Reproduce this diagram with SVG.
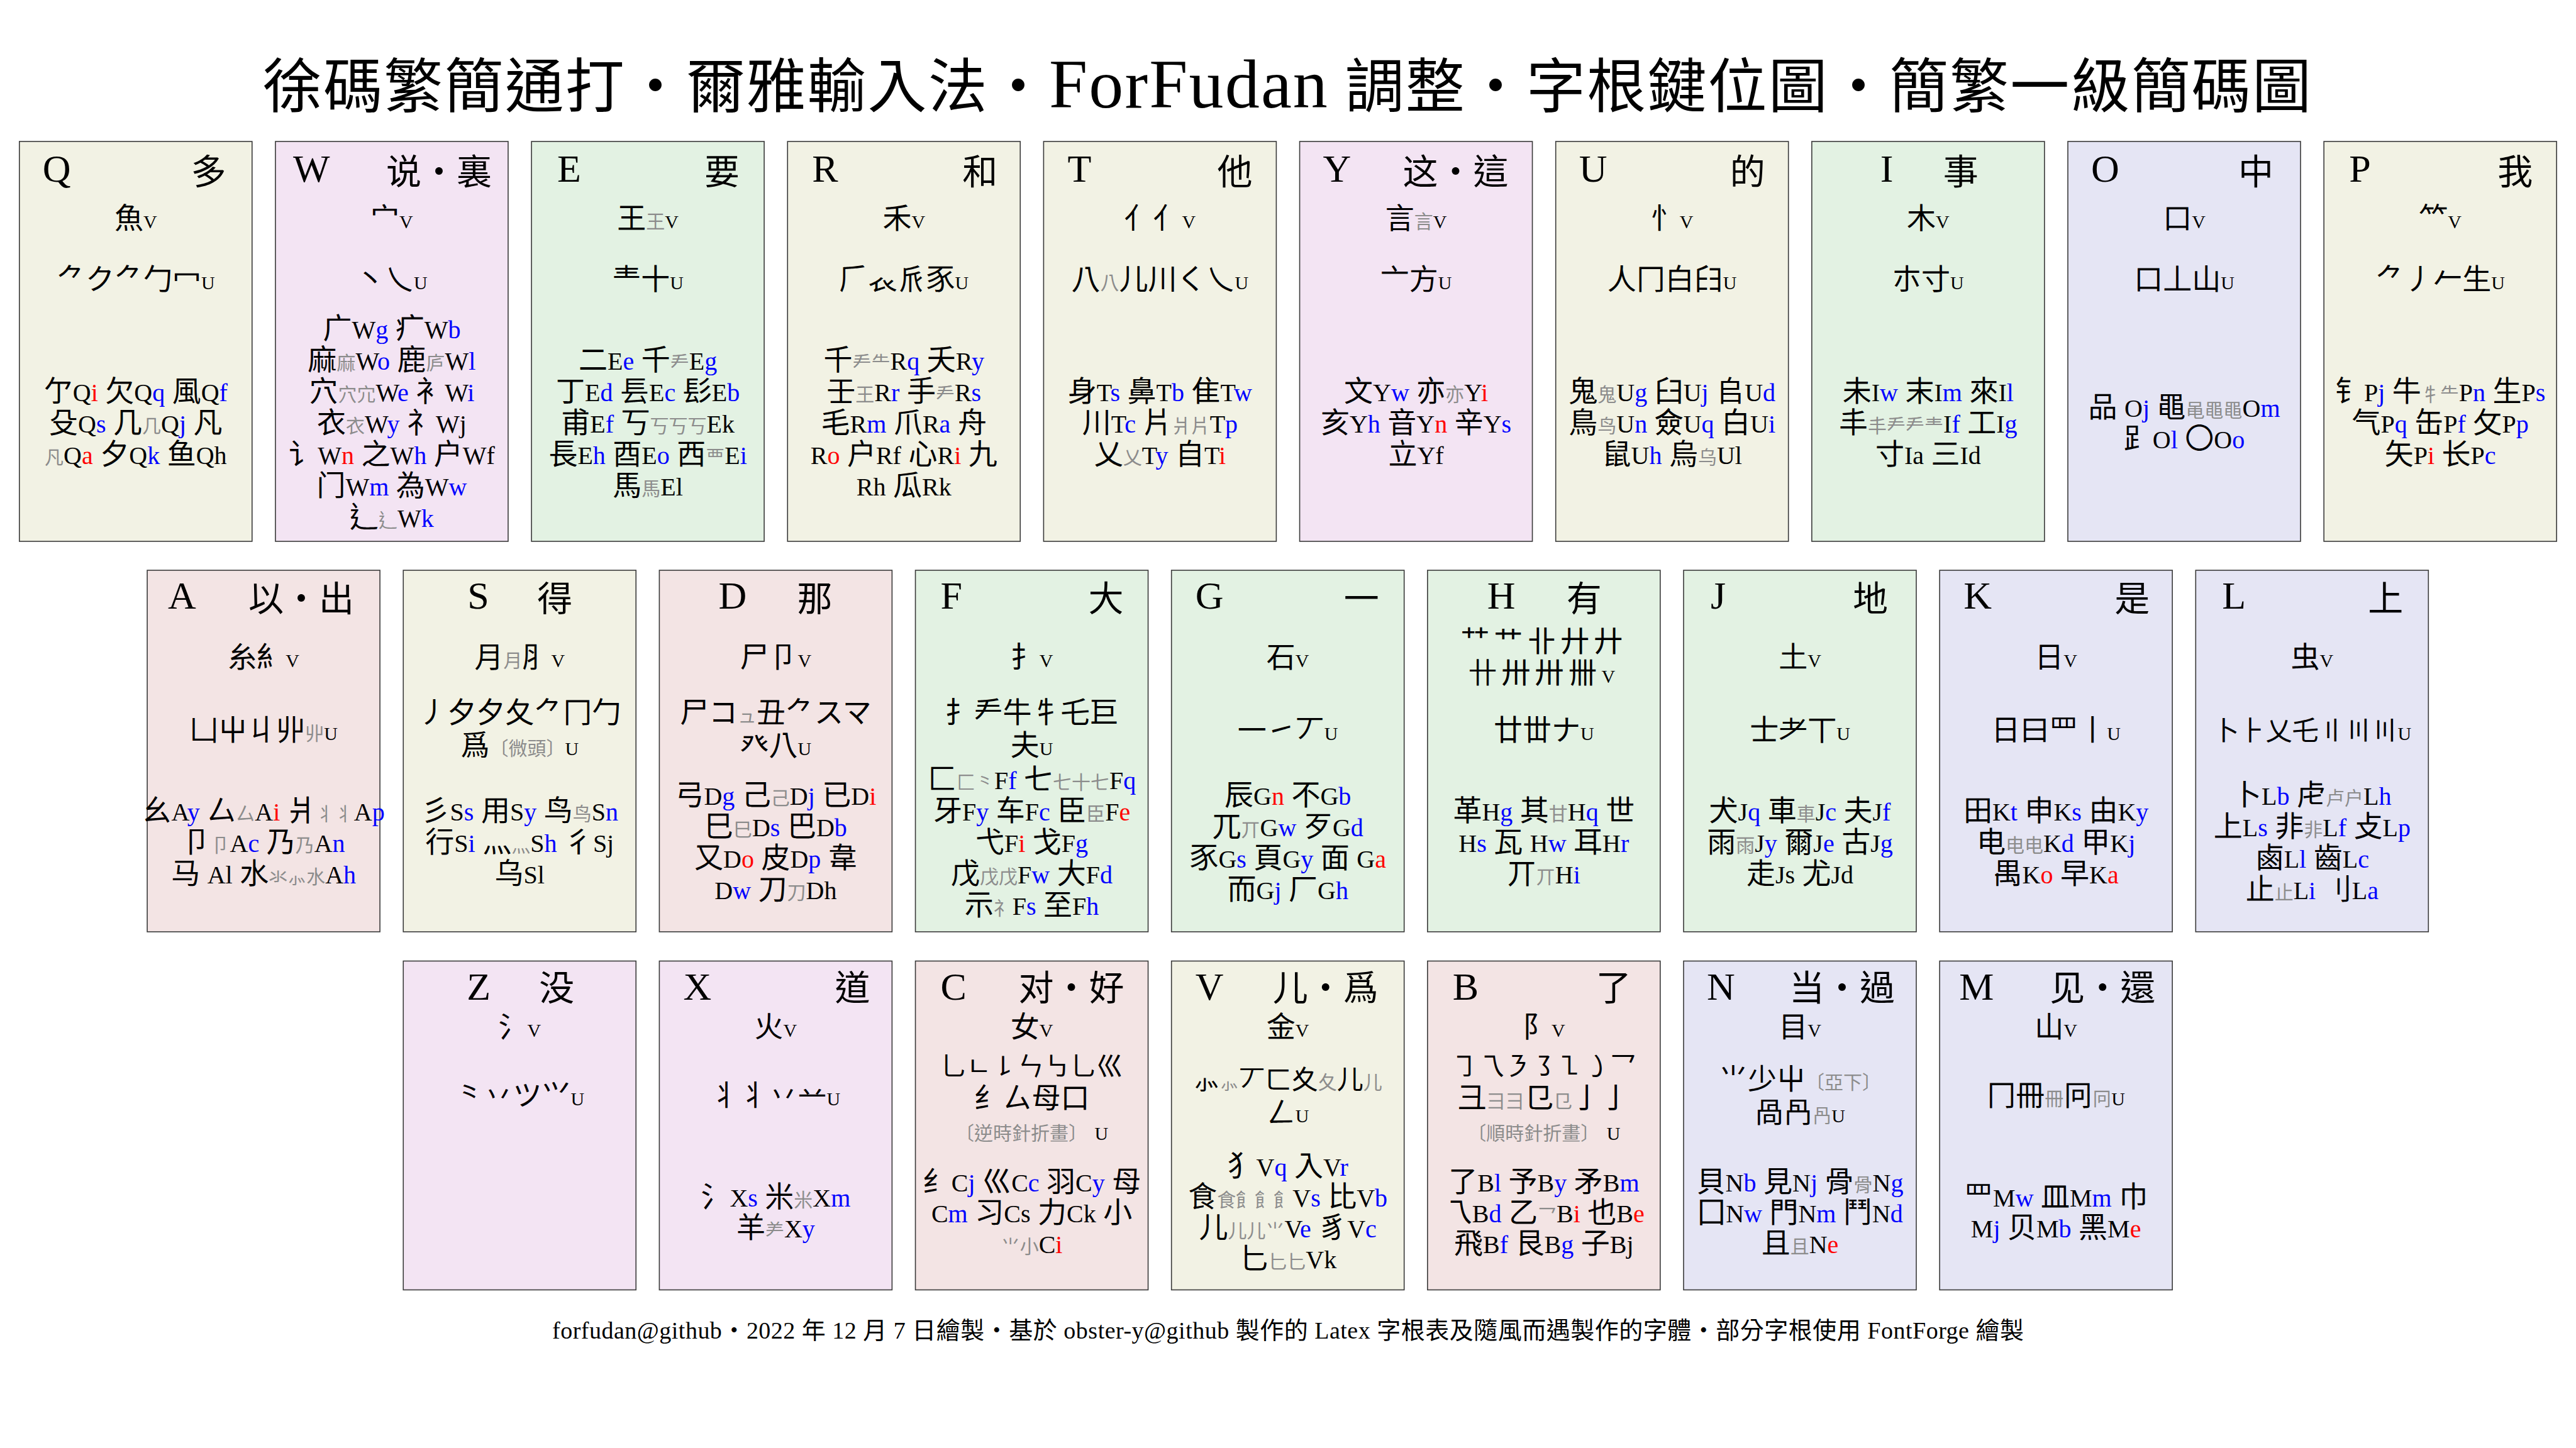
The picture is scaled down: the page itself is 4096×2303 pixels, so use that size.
<svg xmlns="http://www.w3.org/2000/svg" width="4096" height="2303" viewBox="0 0 4096 2303">
<style>
text{font-family:"Liberation Serif","Noto Sans CJK TC","Noto Sans CJK SC",serif;fill:#000}
.k{stroke:#3a3a3a;stroke-width:1.6}
.cy{fill:#f2f2e4}.cp{fill:#f3e4f3}.cg{fill:#e3f2e3}.cb{fill:#e5e5f4}.cr{fill:#f3e4e4}
.hl{font-size:62px}
.hc{font-size:56px;text-anchor:end}
.m{font-size:46px;text-anchor:middle}
.n{font-size:42px;text-anchor:middle}
.w{letter-spacing:7px}
.s{font-size:30px}
.l{font-size:40px}
.b{fill:#0000ff}
.r{fill:#ff0000}
.g{font-size:30px;fill:#8c8c8c}
</style>
<rect width="4096" height="2303" fill="#ffffff"/>
<g id="title">
<text x="418" y="171" font-size="94" textLength="3257" lengthAdjust="spacing">徐碼繁簡通打・爾雅輸入法・<tspan font-size="110">ForFudan</tspan> 調整・字根鍵位圖・簡繁一級簡碼圖</text>
</g>
<g id="key-Q" transform="translate(30.8 225)">
<rect class="k cy" width="370" height="636"/>
<text class="hl" x="37" y="64">Q</text><text class="hc" x="329" y="68">多</text>
<text class="m" x="185" y="138">魚<tspan class="s">V</tspan></text>
<text class="m" x="185" y="235">⺈ク⺈勹冖<tspan class="s">U</tspan></text>
<text class="m" x="185" y="413">亇<tspan class="l">Q<tspan class="r">i</tspan></tspan> 欠<tspan class="l">Q<tspan class="b">q</tspan></tspan> 風<tspan class="l">Q<tspan class="b">f</tspan></tspan></text>
<text class="m" x="185" y="463">殳<tspan class="l">Q<tspan class="b">s</tspan></tspan> 几<tspan class="g">几</tspan><tspan class="l">Q<tspan class="b">j</tspan></tspan> 凡</text>
<text class="m" x="185" y="513"><tspan class="g">凡</tspan><tspan class="l">Q<tspan class="r">a</tspan></tspan> 夕<tspan class="l">Q<tspan class="b">k</tspan></tspan> 鱼<tspan class="l">Qh</tspan></text>
</g>
<g id="key-W" transform="translate(437.95 225)">
<rect class="k cp" width="370" height="636"/>
<text class="hl" x="28" y="64">W</text><text class="hc" x="344" y="68">说・裏</text>
<text class="m" x="185" y="138">宀<tspan class="s">V</tspan></text>
<text class="m" x="185" y="235">丶乀<tspan class="s">U</tspan></text>
<text class="m" x="185" y="313">广<tspan class="l">W<tspan class="b">g</tspan></tspan> 疒<tspan class="l">W<tspan class="b">b</tspan></tspan></text>
<text class="m" x="185" y="363">麻<tspan class="g">麻</tspan><tspan class="l">W<tspan class="b">o</tspan></tspan> 鹿<tspan class="g">庐</tspan><tspan class="l">W<tspan class="b">l</tspan></tspan></text>
<text class="m" x="185" y="413">穴<tspan class="g">穴宂</tspan><tspan class="l">W<tspan class="b">e</tspan></tspan> 衤<tspan class="l">W<tspan class="b">i</tspan></tspan></text>
<text class="m" x="185" y="463">衣<tspan class="g">衣</tspan><tspan class="l">W<tspan class="b">y</tspan></tspan> 礻<tspan class="l">Wj</tspan></text>
<text class="m" x="185" y="513">讠<tspan class="l">W<tspan class="r">n</tspan></tspan> 之<tspan class="l">W<tspan class="b">h</tspan></tspan> 户<tspan class="l">Wf</tspan></text>
<text class="m" x="185" y="563">门<tspan class="l">W<tspan class="b">m</tspan></tspan> 為<tspan class="l">W<tspan class="b">w</tspan></tspan></text>
<text class="m" x="185" y="613">辶<tspan class="g">辶</tspan><tspan class="l">W<tspan class="b">k</tspan></tspan></text>
</g>
<g id="key-E" transform="translate(845.1 225)">
<rect class="k cg" width="370" height="636"/>
<text class="hl" x="41" y="64">E</text><text class="hc" x="331" y="68">要</text>
<text class="m" x="185" y="138">王<tspan class="g">王</tspan><tspan class="s">V</tspan></text>
<text class="m" x="185" y="235">龶十<tspan class="s">U</tspan></text>
<text class="m" x="185" y="363">二<tspan class="l">E<tspan class="b">e</tspan></tspan> 千<tspan class="g">龵</tspan><tspan class="l">E<tspan class="b">g</tspan></tspan></text>
<text class="m" x="185" y="413">丁<tspan class="l">E<tspan class="b">d</tspan></tspan> 镸<tspan class="l">E<tspan class="b">c</tspan></tspan> 髟<tspan class="l">E<tspan class="b">b</tspan></tspan></text>
<text class="m" x="185" y="463">甫<tspan class="l">E<tspan class="b">f</tspan></tspan> 丂<tspan class="g">丂丂丂</tspan><tspan class="l">Ek</tspan></text>
<text class="m" x="185" y="513">長<tspan class="l">E<tspan class="b">h</tspan></tspan> 酉<tspan class="l">E<tspan class="b">o</tspan></tspan> 西<tspan class="g">覀</tspan><tspan class="l">E<tspan class="b">i</tspan></tspan></text>
<text class="m" x="185" y="563">馬<tspan class="g">馬</tspan><tspan class="l">El</tspan></text>
</g>
<g id="key-R" transform="translate(1252.25 225)">
<rect class="k cy" width="370" height="636"/>
<text class="hl" x="39" y="64">R</text><text class="hc" x="334" y="68">和</text>
<text class="m" x="185" y="138">禾<tspan class="s">V</tspan></text>
<text class="m" x="185" y="235">𠂆𧘇𠂢豕<tspan class="s">U</tspan></text>
<text class="m" x="185" y="363">千<tspan class="g">龵⺧</tspan><tspan class="l">R<tspan class="b">q</tspan></tspan> 夭<tspan class="l">R<tspan class="b">y</tspan></tspan></text>
<text class="m" x="185" y="413">壬<tspan class="g">王</tspan><tspan class="l">R<tspan class="b">r</tspan></tspan> 手<tspan class="g">龵</tspan><tspan class="l">R<tspan class="b">s</tspan></tspan></text>
<text class="m" x="185" y="463">毛<tspan class="l">R<tspan class="b">m</tspan></tspan> 爪<tspan class="l">R<tspan class="b">a</tspan></tspan> 舟</text>
<text class="m" x="185" y="513"><tspan class="l">R<tspan class="r">o</tspan></tspan> 户<tspan class="l">Rf</tspan> 心<tspan class="l">R<tspan class="r">i</tspan></tspan> 九</text>
<text class="m" x="185" y="563"><tspan class="l">Rh</tspan> 瓜<tspan class="l">Rk</tspan></text>
</g>
<g id="key-T" transform="translate(1659.4 225)">
<rect class="k cy" width="370" height="636"/>
<text class="hl" x="38" y="64">T</text><text class="hc" x="332" y="68">他</text>
<text class="m" x="185" y="138">亻亻<tspan class="s">V</tspan></text>
<text class="m" x="185" y="235">八<tspan class="g">八</tspan>儿川く乀<tspan class="s">U</tspan></text>
<text class="m" x="185" y="413">身<tspan class="l">T<tspan class="b">s</tspan></tspan> 鼻<tspan class="l">T<tspan class="b">b</tspan></tspan> 隹<tspan class="l">T<tspan class="b">w</tspan></tspan></text>
<text class="m" x="185" y="463">川<tspan class="l">T<tspan class="b">c</tspan></tspan> 片<tspan class="g">爿片</tspan><tspan class="l">T<tspan class="b">p</tspan></tspan></text>
<text class="m" x="185" y="513">乂<tspan class="g">乂</tspan><tspan class="l">T<tspan class="b">y</tspan></tspan> 自<tspan class="l">T<tspan class="r">i</tspan></tspan></text>
</g>
<g id="key-Y" transform="translate(2066.55 225)">
<rect class="k cp" width="370" height="636"/>
<text class="hl" x="37" y="64">Y</text><text class="hc" x="332" y="68">这・這</text>
<text class="m" x="185" y="138">言<tspan class="g">言</tspan><tspan class="s">V</tspan></text>
<text class="m" x="185" y="235">亠方<tspan class="s">U</tspan></text>
<text class="m" x="185" y="413">文<tspan class="l">Y<tspan class="b">w</tspan></tspan> 亦<tspan class="g">亦</tspan><tspan class="l">Y<tspan class="r">i</tspan></tspan></text>
<text class="m" x="185" y="463">亥<tspan class="l">Y<tspan class="b">h</tspan></tspan> 音<tspan class="l">Y<tspan class="r">n</tspan></tspan> 辛<tspan class="l">Y<tspan class="b">s</tspan></tspan></text>
<text class="m" x="185" y="513">立<tspan class="l">Yf</tspan></text>
</g>
<g id="key-U" transform="translate(2473.7 225)">
<rect class="k cy" width="370" height="636"/>
<text class="hl" x="37" y="64">U</text><text class="hc" x="333" y="68">的</text>
<text class="m" x="185" y="138">忄<tspan class="s">V</tspan></text>
<text class="m" x="185" y="235">人冂白⺽<tspan class="s">U</tspan></text>
<text class="m" x="185" y="413">鬼<tspan class="g">鬼</tspan><tspan class="l">U<tspan class="b">g</tspan></tspan> 臼<tspan class="l">U<tspan class="b">j</tspan></tspan> 𠂤<tspan class="l">U<tspan class="b">d</tspan></tspan></text>
<text class="m" x="185" y="463">鳥<tspan class="g">鸟</tspan><tspan class="l">U<tspan class="b">n</tspan></tspan> 僉<tspan class="l">U<tspan class="b">q</tspan></tspan> 白<tspan class="l">U<tspan class="b">i</tspan></tspan></text>
<text class="m" x="185" y="513">鼠<tspan class="l">U<tspan class="b">h</tspan></tspan> 烏<tspan class="g">乌</tspan><tspan class="l">Ul</tspan></text>
</g>
<g id="key-I" transform="translate(2880.85 225)">
<rect class="k cg" width="370" height="636"/>
<text class="hl" x="109" y="64">I</text><text class="hc" x="265" y="68">事</text>
<text class="m" x="185" y="138">木<tspan class="s">V</tspan></text>
<text class="m" x="185" y="235">朩寸<tspan class="s">U</tspan></text>
<text class="m" x="185" y="413">未<tspan class="l">I<tspan class="b">w</tspan></tspan> 末<tspan class="l">I<tspan class="b">m</tspan></tspan> 來<tspan class="l">I<tspan class="b">l</tspan></tspan></text>
<text class="m" x="185" y="463">丰<tspan class="g">丰龵龵龶</tspan><tspan class="l">I<tspan class="b">f</tspan></tspan> 工<tspan class="l">I<tspan class="b">g</tspan></tspan></text>
<text class="m" x="185" y="513">寸<tspan class="l">Ia</tspan> 三<tspan class="l">Id</tspan></text>
</g>
<g id="key-O" transform="translate(3288 225)">
<rect class="k cb" width="370" height="636"/>
<text class="hl" x="37" y="64">O</text><text class="hc" x="327" y="68">中</text>
<text class="m" x="185" y="138">口<tspan class="s">V</tspan></text>
<text class="m" x="185" y="235">口丄山<tspan class="s">U</tspan></text>
<text class="m" x="185" y="438">品 <tspan class="l">O<tspan class="b">j</tspan></tspan> 黽<tspan class="g">黾黽黽</tspan><tspan class="l">O<tspan class="b">m</tspan></tspan></text>
<text class="m" x="185" y="488">⻊<tspan class="l">O<tspan class="b">l</tspan></tspan> 〇<tspan class="l">O<tspan class="b">o</tspan></tspan></text>
</g>
<g id="key-P" transform="translate(3695.15 225)">
<rect class="k cy" width="370" height="636"/>
<text class="hl" x="40" y="64">P</text><text class="hc" x="332" y="68">我</text>
<text class="m" x="185" y="138">⺮<tspan class="s">V</tspan></text>
<text class="m" x="185" y="235">⺈丿𠂉生<tspan class="s">U</tspan></text>
<text class="m" x="185" y="413">钅<tspan class="l">P<tspan class="b">j</tspan></tspan> 牛<tspan class="g">牜⺧</tspan><tspan class="l">P<tspan class="b">n</tspan></tspan> 生<tspan class="l">P<tspan class="b">s</tspan></tspan></text>
<text class="m" x="185" y="463">气<tspan class="l">P<tspan class="b">q</tspan></tspan> 缶<tspan class="l">P<tspan class="b">f</tspan></tspan> 攵<tspan class="l">P<tspan class="b">p</tspan></tspan></text>
<text class="m" x="185" y="513">矢<tspan class="l">P<tspan class="r">i</tspan></tspan> 长<tspan class="l">P<tspan class="b">c</tspan></tspan></text>
</g>
<g id="key-A" transform="translate(234.1 907)">
<rect class="k cr" width="370" height="575"/>
<text class="hl" x="33" y="61">A</text><text class="hc" x="329" y="65">以・出</text>
<text class="m" x="185" y="154">糸糹<tspan class="s">V</tspan></text>
<text class="m" x="185" y="270">凵屮丩丱<tspan class="g">丱</tspan><tspan class="s">U</tspan></text>
<text class="m" x="185" y="398">幺<tspan class="l">A<tspan class="b">y</tspan></tspan> 厶<tspan class="g">厶</tspan><tspan class="l">A<tspan class="r">i</tspan></tspan> 爿<tspan class="g">丬丬</tspan><tspan class="l">A<tspan class="b">p</tspan></tspan></text>
<text class="m" x="185" y="448">卩<tspan class="g">卩</tspan><tspan class="l">A<tspan class="b">c</tspan></tspan> 乃<tspan class="g">乃</tspan><tspan class="l">A<tspan class="b">n</tspan></tspan></text>
<text class="m" x="185" y="498">马 <tspan class="l">Al</tspan> 水<tspan class="g">氺⺗水</tspan><tspan class="l">A<tspan class="b">h</tspan></tspan></text>
</g>
<g id="key-S" transform="translate(641.25 907)">
<rect class="k cy" width="370" height="575"/>
<text class="hl" x="102" y="61">S</text><text class="hc" x="269" y="65">得</text>
<text class="m" x="185" y="154">月<tspan class="g">月</tspan>⺼<tspan class="s">V</tspan></text>
<text class="m" x="185" y="242">丿夕夕夂⺈冂勹</text>
<text class="m" x="185" y="294">爲<tspan class="g">〔微頭〕</tspan><tspan class="s">U</tspan></text>
<text class="m" x="185" y="398">彡<tspan class="l">S<tspan class="b">s</tspan></tspan> 用<tspan class="l">S<tspan class="b">y</tspan></tspan> 鸟<tspan class="g">鸟</tspan><tspan class="l">S<tspan class="b">n</tspan></tspan></text>
<text class="m" x="185" y="448">行<tspan class="l">S<tspan class="b">i</tspan></tspan> 灬<tspan class="g">⺣</tspan><tspan class="l">S<tspan class="b">h</tspan></tspan> 彳<tspan class="l">Sj</tspan></text>
<text class="m" x="185" y="498">乌<tspan class="l">Sl</tspan></text>
</g>
<g id="key-D" transform="translate(1048.4 907)">
<rect class="k cr" width="370" height="575"/>
<text class="hl" x="94" y="61">D</text><text class="hc" x="275" y="65">那</text>
<text class="m" x="185" y="154">尸卩<tspan class="s">V</tspan></text>
<text class="m" x="185" y="242">尸コ<tspan class="g">ュ</tspan>丑⺈スマ</text>
<text class="m" x="185" y="294">癶八<tspan class="s">U</tspan></text>
<text class="m" x="185" y="373">弓<tspan class="l">D<tspan class="b">g</tspan></tspan> 己<tspan class="g">己</tspan><tspan class="l">D<tspan class="b">j</tspan></tspan> 已<tspan class="l">D<tspan class="r">i</tspan></tspan></text>
<text class="m" x="185" y="423">巳<tspan class="g">巳</tspan><tspan class="l">D<tspan class="b">s</tspan></tspan> 巴<tspan class="l">D<tspan class="b">b</tspan></tspan></text>
<text class="m" x="185" y="473">又<tspan class="l">D<tspan class="r">o</tspan></tspan> 皮<tspan class="l">D<tspan class="b">p</tspan></tspan> 韋</text>
<text class="m" x="185" y="523"><tspan class="l">D<tspan class="b">w</tspan></tspan> 刀<tspan class="g">刀</tspan><tspan class="l">Dh</tspan></text>
</g>
<g id="key-F" transform="translate(1455.55 907)">
<rect class="k cg" width="370" height="575"/>
<text class="hl" x="40" y="61">F</text><text class="hc" x="331" y="65">大</text>
<text class="m" x="185" y="154">扌<tspan class="s">V</tspan></text>
<text class="m" x="185" y="242">扌龵牛牜乇巨</text>
<text class="m" x="185" y="294">夫<tspan class="s">U</tspan></text>
<text class="m" x="185" y="348">匚<tspan class="g">匚⺀</tspan><tspan class="l">F<tspan class="b">f</tspan></tspan> 七<tspan class="g">七十七</tspan><tspan class="l">F<tspan class="b">q</tspan></tspan></text>
<text class="m" x="185" y="398">牙<tspan class="l">F<tspan class="b">y</tspan></tspan> 车<tspan class="l">F<tspan class="b">c</tspan></tspan> 臣<tspan class="g">臣</tspan><tspan class="l">F<tspan class="r">e</tspan></tspan></text>
<text class="m" x="185" y="448">弋<tspan class="l">F<tspan class="r">i</tspan></tspan> 戈<tspan class="l">F<tspan class="b">g</tspan></tspan></text>
<text class="m" x="185" y="498">戊<tspan class="g">戊戊</tspan><tspan class="l">F<tspan class="b">w</tspan></tspan> 大<tspan class="l">F<tspan class="b">d</tspan></tspan></text>
<text class="m" x="185" y="548">示<tspan class="g">礻</tspan><tspan class="l">F<tspan class="b">s</tspan></tspan> 至<tspan class="l">F<tspan class="b">h</tspan></tspan></text>
</g>
<g id="key-G" transform="translate(1862.7 907)">
<rect class="k cg" width="370" height="575"/>
<text class="hl" x="38" y="61">G</text><text class="hc" x="330" y="65">一</text>
<text class="m" x="185" y="154">石<tspan class="s">V</tspan></text>
<text class="m" x="185" y="270">一㇀丆<tspan class="s">U</tspan></text>
<text class="m" x="185" y="373">辰<tspan class="l">G<tspan class="r">n</tspan></tspan> 不<tspan class="l">G<tspan class="b">b</tspan></tspan></text>
<text class="m" x="185" y="423">兀<tspan class="g">丌</tspan><tspan class="l">G<tspan class="b">w</tspan></tspan> 歹<tspan class="l">G<tspan class="b">d</tspan></tspan></text>
<text class="m" x="185" y="473">豕<tspan class="l">G<tspan class="b">s</tspan></tspan> 頁<tspan class="l">G<tspan class="b">y</tspan></tspan> 面 <tspan class="l">G<tspan class="r">a</tspan></tspan></text>
<text class="m" x="185" y="523">而<tspan class="l">G<tspan class="b">j</tspan></tspan> 厂<tspan class="l">G<tspan class="b">h</tspan></tspan></text>
</g>
<g id="key-H" transform="translate(2269.85 907)">
<rect class="k cg" width="370" height="575"/>
<text class="hl" x="95" y="61">H</text><text class="hc" x="277" y="65">有</text>
<text class="m w" x="185" y="129">艹⺾卝廾廾</text>
<text class="m w" x="185" y="179">卄卅卅卌<tspan class="s">V</tspan></text>
<text class="m" x="185" y="270">廿丗ナ<tspan class="s">U</tspan></text>
<text class="m" x="185" y="398">革<tspan class="l">H<tspan class="b">g</tspan></tspan> 其<tspan class="g">甘</tspan><tspan class="l">H<tspan class="b">q</tspan></tspan> 世</text>
<text class="m" x="185" y="448"><tspan class="l">H<tspan class="b">s</tspan></tspan> 瓦 <tspan class="l">H<tspan class="b">w</tspan></tspan> 耳<tspan class="l">H<tspan class="b">r</tspan></tspan></text>
<text class="m" x="185" y="498">丌<tspan class="g">丌</tspan><tspan class="l">H<tspan class="b">i</tspan></tspan></text>
</g>
<g id="key-J" transform="translate(2677 907)">
<rect class="k cg" width="370" height="575"/>
<text class="hl" x="43" y="61">J</text><text class="hc" x="325" y="65">地</text>
<text class="m" x="185" y="154">土<tspan class="s">V</tspan></text>
<text class="m" x="185" y="270">士耂丅<tspan class="s">U</tspan></text>
<text class="m" x="185" y="398">犬<tspan class="l">J<tspan class="b">q</tspan></tspan> 車<tspan class="g">車</tspan><tspan class="l">J<tspan class="b">c</tspan></tspan> 夫<tspan class="l">J<tspan class="b">f</tspan></tspan></text>
<text class="m" x="185" y="448">雨<tspan class="g">雨</tspan><tspan class="l">J<tspan class="b">y</tspan></tspan> 爾<tspan class="l">J<tspan class="b">e</tspan></tspan> 古<tspan class="l">J<tspan class="b">g</tspan></tspan></text>
<text class="m" x="185" y="498">走<tspan class="l">Js</tspan> 尤<tspan class="l">Jd</tspan></text>
</g>
<g id="key-K" transform="translate(3084.15 907)">
<rect class="k cb" width="370" height="575"/>
<text class="hl" x="38" y="61">K</text><text class="hc" x="334" y="65">是</text>
<text class="m" x="185" y="154">日<tspan class="s">V</tspan></text>
<text class="m" x="185" y="270">日曰罒丨<tspan class="s">U</tspan></text>
<text class="m" x="185" y="398">田<tspan class="l">K<tspan class="b">t</tspan></tspan> 申<tspan class="l">K<tspan class="b">s</tspan></tspan> 由<tspan class="l">K<tspan class="b">y</tspan></tspan></text>
<text class="m" x="185" y="448">电<tspan class="g">电电</tspan><tspan class="l">K<tspan class="b">d</tspan></tspan> 甲<tspan class="l">K<tspan class="b">j</tspan></tspan></text>
<text class="m" x="185" y="498">禺<tspan class="l">K<tspan class="r">o</tspan></tspan> 早<tspan class="l">K<tspan class="r">a</tspan></tspan></text>
</g>
<g id="key-L" transform="translate(3491.3 907)">
<rect class="k cb" width="370" height="575"/>
<text class="hl" x="42" y="61">L</text><text class="hc" x="330" y="65">上</text>
<text class="m" x="185" y="154">虫<tspan class="s">V</tspan></text>
<text class="n" x="185" y="270">卜⺊乂乇〢〣〣<tspan class="s">U</tspan></text>
<text class="m" x="185" y="373">卜<tspan class="l">L<tspan class="b">b</tspan></tspan> 虍<tspan class="g">卢户</tspan><tspan class="l">L<tspan class="b">h</tspan></tspan></text>
<text class="m" x="185" y="423">上<tspan class="l">L<tspan class="b">s</tspan></tspan> 非<tspan class="g">非</tspan><tspan class="l">L<tspan class="b">f</tspan></tspan> 攴<tspan class="l">L<tspan class="b">p</tspan></tspan></text>
<text class="m" x="185" y="473">鹵<tspan class="l">L<tspan class="b">l</tspan></tspan> 齒<tspan class="l">L<tspan class="b">c</tspan></tspan></text>
<text class="m" x="185" y="523">止<tspan class="g">止</tspan><tspan class="l">L<tspan class="b">i</tspan></tspan> 刂<tspan class="l">L<tspan class="b">a</tspan></tspan></text>
</g>
<g id="key-Z" transform="translate(641.25 1528.5)">
<rect class="k cp" width="370" height="523"/>
<text class="hl" x="101" y="61">Z</text><text class="hc" x="272" y="62">没</text>
<text class="m" x="185" y="120">氵<tspan class="s">V</tspan></text>
<text class="m" x="185" y="229">⺀丷ツ⺍<tspan class="s">U</tspan></text>
</g>
<g id="key-X" transform="translate(1048.4 1528.5)">
<rect class="k cp" width="370" height="523"/>
<text class="hl" x="38" y="61">X</text><text class="hc" x="335" y="62">道</text>
<text class="m" x="185" y="120">火<tspan class="s">V</tspan></text>
<text class="m" x="185" y="229">丬丬丷䒑<tspan class="s">U</tspan></text>
<text class="m" x="185" y="390.5">氵<tspan class="l">X<tspan class="b">s</tspan></tspan> 米<tspan class="g">米</tspan><tspan class="l">X<tspan class="b">m</tspan></tspan></text>
<text class="m" x="185" y="439.5">羊<tspan class="g">⺶</tspan><tspan class="l">X<tspan class="b">y</tspan></tspan></text>
</g>
<g id="key-C" transform="translate(1455.55 1528.5)">
<rect class="k cr" width="370" height="523"/>
<text class="hl" x="40" y="61">C</text><text class="hc" x="332" y="62">对・好</text>
<text class="m" x="185" y="120">女<tspan class="s">V</tspan></text>
<text class="n" x="185" y="182">乚ㄴ㇙ㄣ㇉乚巛</text>
<text class="m" x="185" y="233">纟ㄙ⺟口</text>
<text class="m" x="185" y="284"><tspan class="g">〔逆時針折畫〕</tspan> <tspan class="s">U</tspan></text>
<text class="m" x="185" y="366">纟<tspan class="l">C<tspan class="b">j</tspan></tspan> 巛<tspan class="l">C<tspan class="b">c</tspan></tspan> 羽<tspan class="l">C<tspan class="b">y</tspan></tspan> 母</text>
<text class="m" x="185" y="415"><tspan class="l">C<tspan class="b">m</tspan></tspan> 习<tspan class="l">Cs</tspan> 力<tspan class="l">Ck</tspan> 小</text>
<text class="m" x="185" y="464"><tspan class="g">⺌小</tspan><tspan class="l">C<tspan class="r">i</tspan></tspan></text>
</g>
<g id="key-V" transform="translate(1862.7 1528.5)">
<rect class="k cy" width="370" height="523"/>
<text class="hl" x="38" y="61">V</text><text class="hc" x="329" y="62">儿・爲</text>
<text class="m" x="185" y="120">金<tspan class="s">V</tspan></text>
<text class="n" x="185" y="203">⺗<tspan class="g">⺗</tspan>丆ㄈ夊<tspan class="g">夂</tspan>儿<tspan class="g">儿</tspan></text>
<text class="m" x="185" y="256">ㄥ<tspan class="s">U</tspan></text>
<text class="m" x="185" y="341.5">犭<tspan class="l">V<tspan class="b">q</tspan></tspan> 入<tspan class="l">V<tspan class="b">r</tspan></tspan></text>
<text class="m" x="185" y="390.5">食<tspan class="g">食飠飠飠</tspan><tspan class="l">V<tspan class="b">s</tspan></tspan> 比<tspan class="l">V<tspan class="b">b</tspan></tspan></text>
<text class="m" x="185" y="439.5">儿<tspan class="g">儿儿⺌</tspan><tspan class="l">V<tspan class="b">e</tspan></tspan> 豸<tspan class="l">V<tspan class="b">c</tspan></tspan></text>
<text class="m" x="185" y="488.5">匕<tspan class="g">匕匕</tspan><tspan class="l">Vk</tspan></text>
</g>
<g id="key-B" transform="translate(2269.85 1528.5)">
<rect class="k cr" width="370" height="523"/>
<text class="hl" x="40" y="61">B</text><text class="hc" x="324" y="62">了</text>
<text class="m" x="185" y="120">阝<tspan class="s">V</tspan></text>
<text class="n" x="185" y="182">㇆乁㇋㇌㇅㇁乛</text>
<text class="m" x="185" y="233">彐<tspan class="g">⺕⺕</tspan>㔾<tspan class="g">⺋</tspan>亅亅</text>
<text class="m" x="185" y="284"><tspan class="g">〔順時針折畫〕</tspan> <tspan class="s">U</tspan></text>
<text class="m" x="185" y="366">了<tspan class="l">B<tspan class="b">l</tspan></tspan> 予<tspan class="l">B<tspan class="b">y</tspan></tspan> 矛<tspan class="l">B<tspan class="b">m</tspan></tspan></text>
<text class="m" x="185" y="415">乁<tspan class="l">B<tspan class="b">d</tspan></tspan> 乙<tspan class="g">乛</tspan><tspan class="l">B<tspan class="r">i</tspan></tspan> 也<tspan class="l">B<tspan class="r">e</tspan></tspan></text>
<text class="m" x="185" y="464">飛<tspan class="l">B<tspan class="b">f</tspan></tspan> 艮<tspan class="l">B<tspan class="b">g</tspan></tspan> 子<tspan class="l">Bj</tspan></text>
</g>
<g id="key-N" transform="translate(2677 1528.5)">
<rect class="k cb" width="370" height="523"/>
<text class="hl" x="37" y="61">N</text><text class="hc" x="336" y="62">当・過</text>
<text class="m" x="185" y="120">目<tspan class="s">V</tspan></text>
<text class="m" x="185" y="203">⺌少屮<tspan class="g">〔亞下〕</tspan></text>
<text class="m" x="185" y="256">咼冎<tspan class="g">冎</tspan><tspan class="s">U</tspan></text>
<text class="m" x="185" y="366">貝<tspan class="l">N<tspan class="b">b</tspan></tspan> 見<tspan class="l">N<tspan class="b">j</tspan></tspan> 骨<tspan class="g">骨</tspan><tspan class="l">N<tspan class="b">g</tspan></tspan></text>
<text class="m" x="185" y="415">囗<tspan class="l">N<tspan class="b">w</tspan></tspan> 門<tspan class="l">N<tspan class="b">m</tspan></tspan> 鬥<tspan class="l">N<tspan class="b">d</tspan></tspan></text>
<text class="m" x="185" y="464">且<tspan class="g">且</tspan><tspan class="l">N<tspan class="r">e</tspan></tspan></text>
</g>
<g id="key-M" transform="translate(3084.15 1528.5)">
<rect class="k cb" width="370" height="523"/>
<text class="hl" x="31" y="61">M</text><text class="hc" x="343" y="62">见・還</text>
<text class="m" x="185" y="120">山<tspan class="s">V</tspan></text>
<text class="m" x="185" y="229">冂冊<tspan class="g">冊</tspan>冋<tspan class="g">冋</tspan><tspan class="s">U</tspan></text>
<text class="m" x="185" y="390.5">罒<tspan class="l">M<tspan class="b">w</tspan></tspan> 皿<tspan class="l">M<tspan class="b">m</tspan></tspan> 巾</text>
<text class="m" x="185" y="439.5"><tspan class="l">M<tspan class="b">j</tspan></tspan> 贝<tspan class="l">M<tspan class="b">b</tspan></tspan> 黑<tspan class="l">M<tspan class="r">e</tspan></tspan></text>
</g>
<g id="footer">
<text x="878" y="2129" font-size="38" textLength="2340" lengthAdjust="spacing">forfudan@github・2022 年 12 月 7 日繪製・基於 obster-y@github 製作的 Latex 字根表及隨風而遇製作的字體・部分字根使用 FontForge 繪製</text>
</g>
</svg>
